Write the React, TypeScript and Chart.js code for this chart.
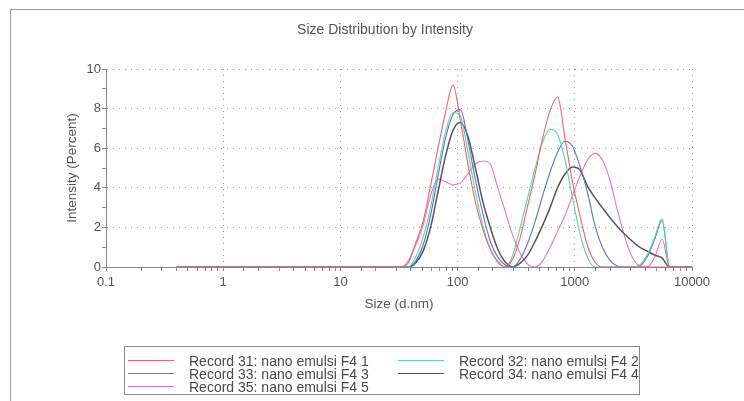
import React, { useEffect, useRef } from 'react';
import { Chart, registerables } from 'chart.js';

Chart.register(...registerables);

// Size bins (d.nm)
const sizes = [
  0.4, 0.4632, 0.5365, 0.6213, 0.7195, 0.8332, 0.9649, 1.117, 1.294, 1.499,
  1.736, 2.01, 2.328, 2.696, 3.122, 3.615, 4.187, 4.849, 5.615, 6.503,
  7.531, 8.721, 10.1, 11.7, 13.54, 15.69, 18.17, 21.04, 24.36, 28.21,
  32.67, 37.84, 43.82, 50.75, 58.77, 68.06, 78.82, 91.28, 105.7, 122.4,
  141.8, 164.2, 190.1, 220.2, 255.0, 295.3, 342.0, 396.1, 458.7, 531.2,
  615.1, 712.4, 825.0, 955.4, 1106, 1281, 1484, 1718, 1990, 2305,
  2669, 3091, 3580, 4145, 4801, 5560, 6439, 7456, 8635, 10000,
];

const zeros31 = [0, 0, 0, 0, 0, 0, 0, 0, 0, 0, 0, 0, 0, 0, 0, 0, 0, 0, 0, 0, 0, 0, 0, 0, 0, 0, 0, 0, 0, 0, 0];

const record31 = zeros31.concat([
  0.2, 1.2, 2.3, 4.1, 6.0, 7.8, 9.2, 7.4, 5.2, 3.3,
  1.9, 0.9, 0.25, 0.0, 0.4, 1.5, 3.1, 4.7, 6.5, 7.9,
  8.6, 6.5, 4.3, 2.6, 1.1, 0.25, 0, 0, 0, 0,
  0, 0, 0, 0, 0, 0, 0, 0, 0,
]);
const record32 = zeros31.concat([
  0.0, 0.5, 1.5, 3.0, 5.0, 6.8, 7.8, 7.6, 5.8, 3.8,
  2.1, 0.9, 0.3, 0.0, 0.6, 2.0, 3.5, 5.0, 6.3, 6.95,
  6.7, 5.4, 3.5, 1.7, 0.5, 0.0, 0, 0, 0, 0,
  0, 0.1, 0.6, 1.5, 2.45, 0, 0, 0, 0,
]);
const record33 = zeros31.concat([
  0.0, 0.3, 1.1, 2.6, 4.6, 6.5, 7.7, 7.95, 6.4, 4.4,
  2.7, 1.3, 0.5, 0.1, 0.0, 0.4, 1.2, 2.3, 3.6, 4.8,
  5.8, 6.35, 6.1, 5.1, 3.8, 2.1, 1.0, 0.35, 0.05, 0,
  0, 0.05, 0.5, 1.4, 2.35, 0, 0, 0, 0,
]);
const record34 = zeros31.concat([
  0.0, 0.2, 0.8, 2.0, 3.8, 5.6, 6.9, 7.3, 6.6, 5.0,
  3.3, 2.0, 0.9, 0.25, 0.0, 0.2, 0.6, 1.3, 2.1, 3.0,
  4.0, 4.7, 5.05, 4.9, 4.1, 3.5, 3.0, 2.5, 2.05, 1.65,
  1.3, 1.0, 0.8, 0.6, 0.45, 0, 0, 0, 0,
]);
const record35 = zeros31.concat([
  0.3, 1.1, 2.1, 3.6, 4.45, 4.3, 4.15, 4.25, 4.7, 5.2,
  5.35, 5.2, 4.0, 2.8, 1.6, 0.7, 0.15, 0.0, 0.3, 1.0,
  1.8, 2.6, 3.6, 4.6, 5.4, 5.75, 5.4, 4.4, 2.9, 1.5,
  0.5, 0.05, 0.0, 0.5, 1.4, 0, 0, 0, 0,
]);

const seriesValues = [record31, record32, record33, record34, record35];
const seriesLabels = [
  'Record 31: nano emulsi F4 1',
  'Record 32: nano emulsi F4 2',
  'Record 33: nano emulsi F4 3',
  'Record 34: nano emulsi F4 4',
  'Record 35: nano emulsi F4 5',
];
const seriesColors = ['#ea6470', '#5fd4a8', '#6270d8', '#55555e', '#ea78b4'];
const seriesWidths = [1.1, 1.1, 1.1, 1.5, 1.1];

const xTickLabels = ['0.1', '1', '10', '100', '1000', '10000'];
const yTickLabels = ['0', '2', '4', '6', '8', '10'];

const FONT = '"Liberation Sans", Arial, Helvetica, sans-serif';
const TEXT = '#555';

function isDecade(v: number): boolean {
  if (!(v > 0)) return false;
  const l = Math.log10(v);
  return Math.abs(l - Math.round(l)) < 1e-6;
}

export default function App() {
  const ref = useRef<HTMLCanvasElement | null>(null);

  useEffect(() => {
    if (!ref.current) return;
    const chart = new Chart(ref.current, {
      type: 'line',
      data: {
        datasets: seriesValues.map((vals, i) => ({
          label: seriesLabels[i],
          data: sizes.map((s, j) => ({ x: s, y: vals[j] })),
          borderColor: seriesColors[i],
          backgroundColor: seriesColors[i],
          borderWidth: seriesWidths[i],
          pointRadius: 0,
          fill: false,
          cubicInterpolationMode: 'monotone' as const,
        })),
      },
      options: {
        animation: false,
        responsive: false,
        events: [],
        layout: { padding: { left: 78, right: 52, top: 0, bottom: 88.9 } },
        plugins: {
          legend: { display: false },
          tooltip: { enabled: false },
          title: {
            display: true,
            text: 'Size Distribution by Intensity',
            color: TEXT,
            font: { family: FONT, size: 14, weight: 'normal' },
            padding: { top: 21.6, bottom: 30.6 },
          },
        },
        scales: {
          x: {
            type: 'logarithmic',
            min: 0.1,
            max: 10000,
            afterFit: (s: any) => {
              s.height = 45.1;
            },
            border: { display: true, color: '#888', width: 1, dash: [1, 5] },
            grid: {
              color: (c: any) => (c.tick && isDecade(c.tick.value) ? '#9a9a9a' : 'rgba(0,0,0,0)'),
              tickColor: '#888',
              tickLength: 4,
              lineWidth: 1,
            },
            ticks: {
              autoSkip: false,
              maxRotation: 0,
              color: TEXT,
              padding: 4,
              font: { family: FONT, size: 13 },
              callback: (v: any) => {
                const n = Number(v);
                if (!isDecade(n)) return '';
                return xTickLabels[Math.round(Math.log10(n)) + 1] ?? '';
              },
            },
            title: {
              display: true,
              text: 'Size (d.nm)',
              color: TEXT,
              font: { family: FONT, size: 13.5 },
              padding: { top: 0, bottom: 0 },
            },
          },
          y: {
            min: 0,
            max: 10,
            afterFit: (s: any) => {
              s.width = 28;
            },
            border: { display: true, color: '#888', width: 1, dash: [1, 5] },
            grid: {
              color: (c: any) => (c.tick && Math.round(c.tick.value) % 2 === 0 ? '#9a9a9a' : 'rgba(0,0,0,0)'),
              tickColor: '#888',
              tickLength: 4,
              lineWidth: 1,
            },
            ticks: {
              stepSize: 1,
              color: TEXT,
              padding: 1,
              font: { family: FONT, size: 13 },
              callback: (v: any) => {
                const n = Math.round(Number(v));
                return n % 2 === 0 ? yTickLabels[n / 2] : '';
              },
            },
            title: {
              display: true,
              text: 'Intensity (Percent)',
              color: TEXT,
              font: { family: FONT, size: 13.5 },
              padding: { top: -14.1, bottom: 0 },
            },
          },
        },
      } as any,
    });
    return () => chart.destroy();
  }, []);

  const legendRows = [360, 373, 386];
  const colLine = [127, 397];
  const colText = [188, 458];
  const boxLeft = 124;
  const boxTop = 346;

  return (
    <div
      style={{
        position: 'fixed',
        left: 0,
        top: 0,
        width: 744,
        height: 401,
        overflow: 'hidden',
        background: '#fff',
        fontFamily: FONT,
      }}
    >
      <div
        style={{
          position: 'absolute',
          left: 10,
          top: 9,
          width: 760,
          height: 420,
          borderTop: '1px solid #a0a0a0',
          borderLeft: '1px solid #a0a0a0',
        }}
      />
      <canvas ref={ref} width={744} height={401} style={{ position: 'absolute', left: 0, top: 0, display: 'block' }} />
      <div
        style={{
          position: 'absolute',
          left: boxLeft,
          top: boxTop,
          width: 516,
          height: 49,
          boxSizing: 'border-box',
          border: '1px solid #8a8a8a',
        }}
      >
        {seriesLabels.map((label, i) => {
          const row = Math.floor(i / 2);
          const col = i % 2;
          const cy = legendRows[row] - boxTop;
          return (
            <React.Fragment key={label}>
              <div
                style={{
                  position: 'absolute',
                  left: colLine[col] - boxLeft,
                  top: cy - 1,
                  width: 46,
                  height: 1,
                  background: seriesColors[i],
                }}
              />
              <div
                style={{
                  position: 'absolute',
                  left: colText[col] - boxLeft,
                  top: cy - 8,
                  height: 16,
                  lineHeight: '16px',
                  fontSize: 14,
                  color: '#4a4a4a',
                  whiteSpace: 'nowrap',
                }}
              >
                {label}
              </div>
            </React.Fragment>
          );
        })}
      </div>
    </div>
  );
}
